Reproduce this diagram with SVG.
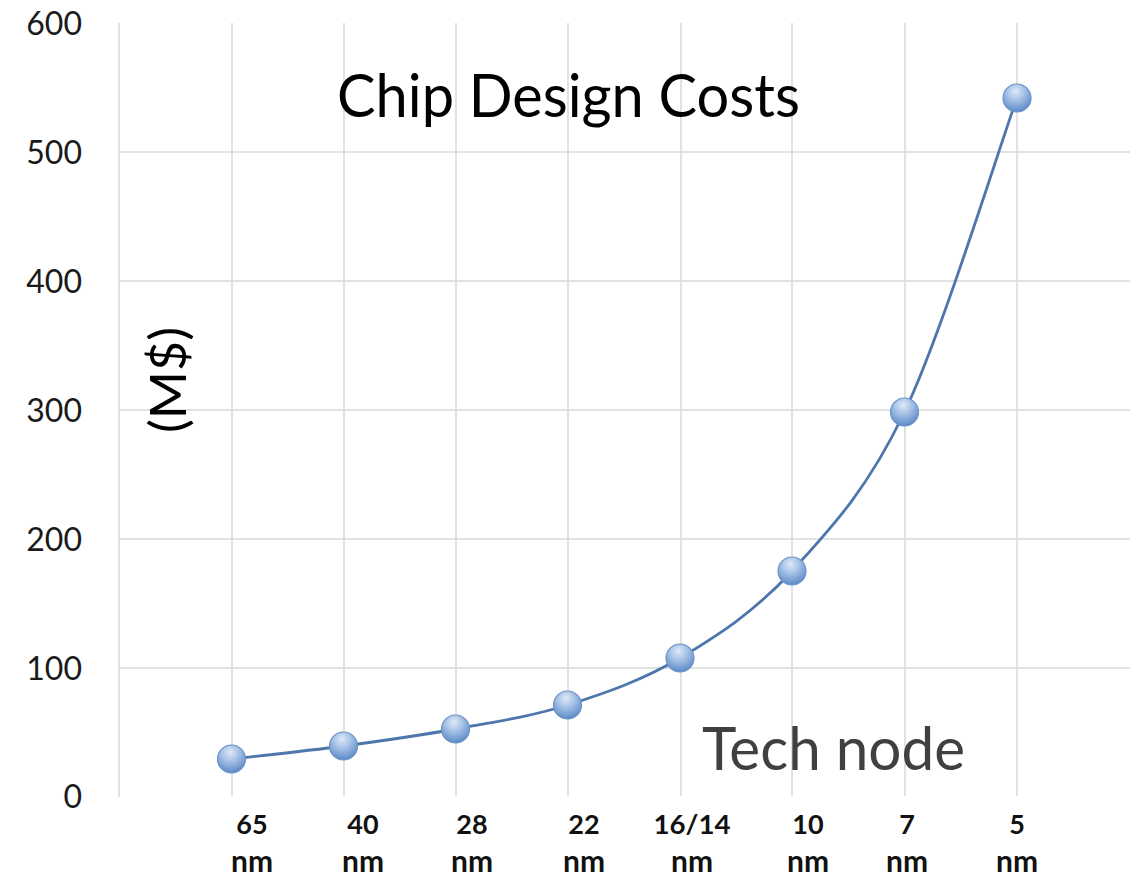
<svg xmlns="http://www.w3.org/2000/svg" width="1132" height="876" viewBox="0 0 1132 876">
  <defs>
    <style>
      .grid { stroke: #d9d9d9; stroke-width: 1.5; fill: none; }
      .ytick { font-family: Lato, "Liberation Sans", sans-serif; font-size: 32px; fill: #1a1a1a; text-anchor: end; }
      .xtick { font-family: Lato, "Liberation Sans", sans-serif; font-size: 27px; font-weight: bold; fill: #111; text-anchor: middle; }
      .unit-nm { font-size: 30px; }
      .title { font-family: Lato, "Liberation Sans", sans-serif; font-size: 60px; fill: #000; }
      .axis-title { font-family: Lato, "Liberation Sans", sans-serif; font-size: 60px; fill: #404040; }
      .unit { font-family: Lato, "Liberation Sans", sans-serif; font-size: 50px; fill: #000; text-anchor: middle; }
      .series { stroke: #4d76ad; stroke-width: 2.8; fill: none; }
      .marker { fill: url(#ball); stroke: #6a92c6; stroke-width: 1.2; }
    </style>
    <radialGradient id="ball" cx="0.45" cy="0.3" r="0.8" fx="0.45" fy="0.25">
      <stop offset="0" stop-color="#dfe9f7"/>
      <stop offset="0.4" stop-color="#a5c0e6"/>
      <stop offset="1" stop-color="#4b7cc0"/>
    </radialGradient>
  </defs>

  <rect width="1132" height="876" fill="#ffffff"/>

  <!-- gridlines -->
  <g id="gridlines">
    <path class="grid" d="M119 23V797 M232 23V796 M344 23V796 M456 23V796 M568 23V796 M681 23V796 M792 23V796 M905 23V796 M1017 23V796"/>
    <path class="grid" d="M119 152H1130 M119 281H1130 M119 410H1130 M119 539H1130 M119 668H1130"/>
  </g>

  <!-- value axis labels -->
  <g id="y-axis">
    <text class="ytick" x="82" y="35">600</text>
    <text class="ytick" x="82" y="164">500</text>
    <text class="ytick" x="82" y="293">400</text>
    <text class="ytick" x="82" y="422">300</text>
    <text class="ytick" x="82" y="551">200</text>
    <text class="ytick" x="82" y="680">100</text>
    <text class="ytick" x="82" y="808">0</text>
  </g>

  <!-- category labels -->
  <g id="x-axis">
    <text class="xtick" x="252" y="834">65</text><text class="xtick unit-nm" x="252" y="872">nm</text>
    <text class="xtick" x="363" y="834">40</text><text class="xtick unit-nm" x="363" y="872">nm</text>
    <text class="xtick" x="472" y="834">28</text><text class="xtick unit-nm" x="472" y="872">nm</text>
    <text class="xtick" x="584" y="834">22</text><text class="xtick unit-nm" x="584" y="872">nm</text>
    <text class="xtick" x="692" y="834" textLength="77" lengthAdjust="spacingAndGlyphs">16/14</text><text class="xtick unit-nm" x="692" y="872">nm</text>
    <text class="xtick" x="808" y="834">10</text><text class="xtick unit-nm" x="808" y="872">nm</text>
    <text class="xtick" x="907" y="834">7</text><text class="xtick unit-nm" x="907" y="872">nm</text>
    <text class="xtick" x="1017" y="834">5</text><text class="xtick unit-nm" x="1017" y="872">nm</text>
  </g>

  <!-- titles -->
  <g id="chart-title">
    <text class="title" x="337" y="117" textLength="463" lengthAdjust="spacingAndGlyphs">Chip Design Costs</text>
  </g>
  <g id="x-title">
    <text class="axis-title" x="702" y="770" textLength="263" lengthAdjust="spacingAndGlyphs">Tech node</text>
  </g>
  <g id="y-title">
    <text class="unit" transform="translate(186 380) rotate(-90)" textLength="106" lengthAdjust="spacingAndGlyphs">(M$)</text>
  </g>

  <!-- series line -->
  <g id="connectors">
    <path class="series" d="M231.5 759 C250.2 756.8 306.2 751 343.5 746 C380.8 741 418.2 735.8 455.5 729 C492.8 722.2 530.1 716.8 567.5 705 C604.9 693.2 642.6 680.3 680 658 C717.4 635.7 754.6 612 792 571 C829.4 530 867 490.8 904.5 412 C942 333.2 998.25 150.3 1017 98"/>
  </g>

  <!-- data points -->
  <g id="node-65nm"><circle class="marker" cx="231.5" cy="759" r="14"/></g>
  <g id="node-40nm"><circle class="marker" cx="343.5" cy="746" r="14"/></g>
  <g id="node-28nm"><circle class="marker" cx="455.5" cy="729" r="14"/></g>
  <g id="node-22nm"><circle class="marker" cx="567.5" cy="705" r="14"/></g>
  <g id="node-16-14nm"><circle class="marker" cx="680" cy="658" r="14"/></g>
  <g id="node-10nm"><circle class="marker" cx="792" cy="571" r="14"/></g>
  <g id="node-7nm"><circle class="marker" cx="904.5" cy="412" r="14"/></g>
  <g id="node-5nm"><circle class="marker" cx="1017" cy="98" r="14"/></g>
</svg>
